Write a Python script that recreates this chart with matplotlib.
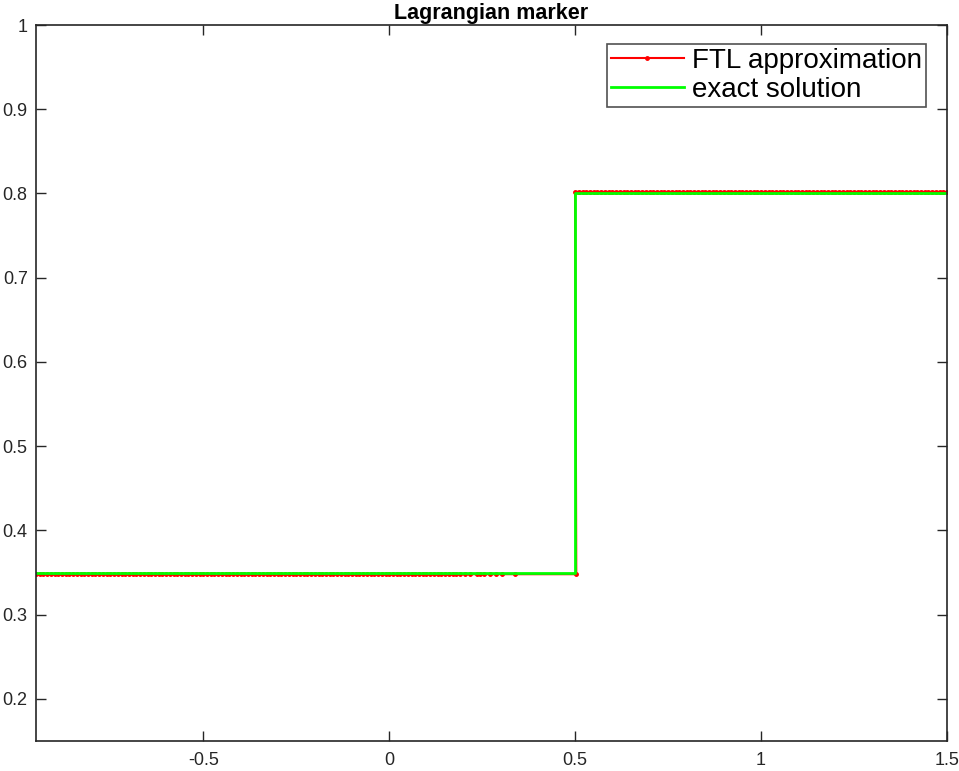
import numpy as np
import matplotlib
matplotlib.use('Agg')
import matplotlib.pyplot as plt

plt.rcParams['font.family'] = ['Liberation Sans', 'DejaVu Sans']

# Lagrangian marker positions (FTL approximation)
left_x = [
    -0.95, -0.94, -0.93, -0.92, -0.91, -0.90, -0.89, -0.88, -0.87, -0.86,
    -0.85, -0.84, -0.83, -0.82, -0.81, -0.80, -0.79, -0.78, -0.77, -0.76,
    -0.75, -0.74, -0.73, -0.72, -0.71, -0.70, -0.69, -0.68, -0.67, -0.66,
    -0.65, -0.64, -0.63, -0.62, -0.61, -0.60, -0.59, -0.58, -0.57, -0.56,
    -0.55, -0.54, -0.53, -0.52, -0.51, -0.50, -0.49, -0.48, -0.47, -0.46,
    -0.45, -0.44, -0.43, -0.42, -0.41, -0.40, -0.39, -0.38, -0.37, -0.36,
    -0.35, -0.34, -0.33, -0.32, -0.31, -0.30, -0.29, -0.28, -0.27, -0.26,
    -0.25, -0.24, -0.23, -0.22, -0.21, -0.20, -0.19, -0.18, -0.17, -0.16,
    -0.15, -0.14, -0.13, -0.12, -0.11, -0.10, -0.09, -0.08, -0.07, -0.06,
    -0.05, -0.04, -0.03, -0.02, -0.01, 0.00, 0.01, 0.02, 0.03, 0.04,
    0.05, 0.06, 0.07, 0.08, 0.09, 0.10, 0.11, 0.12, 0.13, 0.14,
    0.15, 0.16, 0.171, 0.18, 0.19, 0.203, 0.218, 0.235, 0.245, 0.256,
    0.272, 0.288, 0.304, 0.337, 0.503,
]
right_x = [
    0.50, 0.51, 0.52, 0.53, 0.54, 0.55, 0.56, 0.57, 0.58, 0.59,
    0.60, 0.61, 0.62, 0.63, 0.64, 0.65, 0.66, 0.67, 0.68, 0.69,
    0.70, 0.71, 0.72, 0.73, 0.74, 0.75, 0.76, 0.77, 0.78, 0.79,
    0.80, 0.81, 0.82, 0.83, 0.84, 0.85, 0.86, 0.87, 0.88, 0.89,
    0.90, 0.91, 0.92, 0.93, 0.94, 0.95, 0.96, 0.97, 0.98, 0.99,
    1.00, 1.01, 1.02, 1.03, 1.04, 1.05, 1.06, 1.07, 1.08, 1.09,
    1.10, 1.11, 1.12, 1.13, 1.14, 1.15, 1.16, 1.17, 1.18, 1.19,
    1.20, 1.21, 1.22, 1.23, 1.24, 1.25, 1.26, 1.27, 1.28, 1.29,
    1.30, 1.31, 1.32, 1.33, 1.34, 1.35, 1.36, 1.37, 1.38, 1.39,
    1.40, 1.41, 1.42, 1.43, 1.44, 1.45, 1.46, 1.47, 1.48, 1.49,
    1.50,
]
left_level = 0.348
right_level = 0.802

# exact solution: step at x = 0.5
exact_x = [-0.95, 0.5, 0.5, 1.5]
exact_y = [0.35, 0.35, 0.8, 0.8]

x_ticks = [-0.5, 0, 0.5, 1, 1.5]
x_labels = ['-0.5', '0', '0.5', '1', '1.5']
y_ticks = [0.2, 0.3, 0.4, 0.5, 0.6, 0.7, 0.8, 0.9, 1.0]
y_labels = ['0.2', '0.3', '0.4', '0.5', '0.6', '0.7', '0.8', '0.9', '1']

ftl_x = left_x + right_x
ftl_y = [left_level] * len(left_x) + [right_level] * len(right_x)

fig = plt.figure(figsize=(9.59, 7.71), dpi=100)
ax = fig.add_axes([36 / 959, 30 / 771, 911 / 959, 716 / 771])

ax.plot(ftl_x, ftl_y, color='#ff0000', linewidth=1.5, marker='.',
        markersize=5, label='FTL approximation')
ax.plot(exact_x, exact_y, color='#00ff00', linewidth=2, label='exact solution')

ax.set_xlim(-0.95, 1.5)
ax.set_ylim(0.15, 1.0)
ax.set_xticks(x_ticks)
ax.set_xticklabels(x_labels)
ax.set_yticks(y_ticks)
ax.set_yticklabels(y_labels)
ax.tick_params(direction='in', top=True, right=True, length=7,
               width=1, labelsize=13, colors='#262626')
ax.tick_params(axis='x', pad=8)
ax.tick_params(axis='y', pad=6)
for s in ax.spines.values():
    s.set_linewidth(1.2)
    s.set_color('#262626')

ax.set_title('Lagrangian marker', fontsize=15.5, fontweight='bold', pad=4)

leg = ax.legend(loc='upper right', bbox_to_anchor=(0.977, 0.9735),
                fontsize=20, frameon=True, fancybox=False,
                handlelength=2.6, handletextpad=0.3, borderpad=0.15,
                labelspacing=0.1, borderaxespad=0)
leg.get_frame().set_edgecolor('#262626')
leg.get_frame().set_linewidth(1.2)

fig.savefig('out.png', dpi=100)
